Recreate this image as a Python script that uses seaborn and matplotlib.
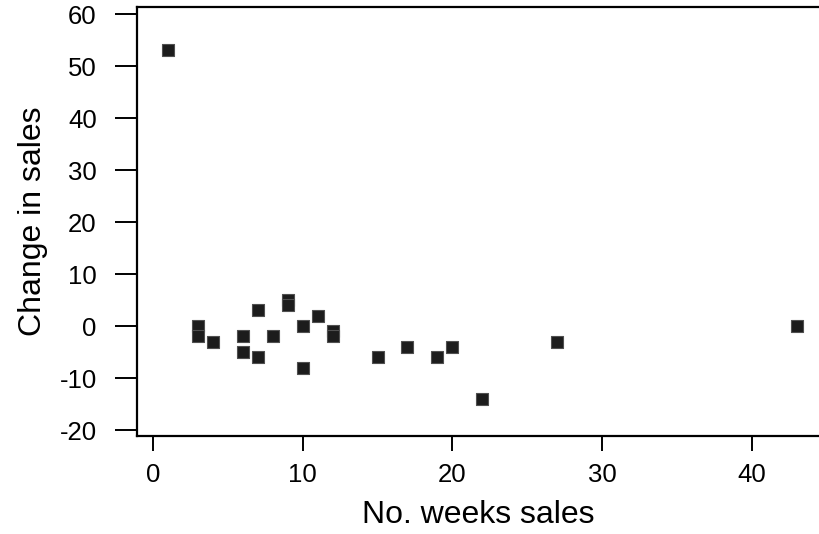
import matplotlib
matplotlib.use("Agg")
import matplotlib.pyplot as plt
import seaborn as sns
import pandas as pd

weeks = [1, 3, 3, 4, 6, 6, 7, 7, 8, 9, 9, 10, 10, 11, 12, 12, 15, 17, 19, 20, 22, 27, 43]
change = [53, 0, -2, -3, -2, -5, 3, -6, -2, 5, 4, 0, -8, 2, -1, -2, -6, -4, -6, -4, -14, -3, 0]
xticks = [0, 10, 20, 30, 40]
yticks = [-20, -10, 0, 10, 20, 30, 40, 50, 60]

df = pd.DataFrame({"No. weeks sales": weeks, "Change in sales": change})

sns.set_style("ticks")
plt.rcParams["font.family"] = ["Liberation Sans", "DejaVu Sans"]
plt.rcParams["text.color"] = "black"
plt.rcParams["axes.labelcolor"] = "black"

W, H = 819, 534
fig = plt.figure(figsize=(W / 100, H / 100), dpi=100)
ax = fig.add_axes([137 / W, (H - 436) / H, (W - 137) / W, (436 - 7) / H])

sns.scatterplot(data=df, x="No. weeks sales", y="Change in sales", ax=ax,
                marker="s", s=72, color="#1c1c1c", edgecolor="#505050",
                linewidth=0.8, zorder=3)

ax.set_xlim(-1.07, 44.5)
ax.set_ylim(-21.15, 61.35)
ax.set_xticks(xticks)
ax.set_yticks(yticks)
ax.set_xticklabels([str(v) for v in xticks])
ax.set_yticklabels([str(v) for v in yticks])

for side in ["left", "bottom", "top"]:
    ax.spines[side].set_visible(True)
    ax.spines[side].set_color("black")
    ax.spines[side].set_linewidth(1.6)
ax.spines["right"].set_visible(False)

ax.tick_params(axis="x", length=10.8, width=1.4, pad=9, labelsize=18.5,
               colors="black", labelcolor="black")
ax.tick_params(axis="y", length=16, width=1.4, pad=13, labelsize=18.5,
               colors="black", labelcolor="black")

ax.set_xlabel("No. weeks sales", fontsize=23, labelpad=9, color="black")
ax.set_ylabel("Change in sales", fontsize=23, labelpad=8, color="black")

fig.savefig("out.png", dpi=100)
